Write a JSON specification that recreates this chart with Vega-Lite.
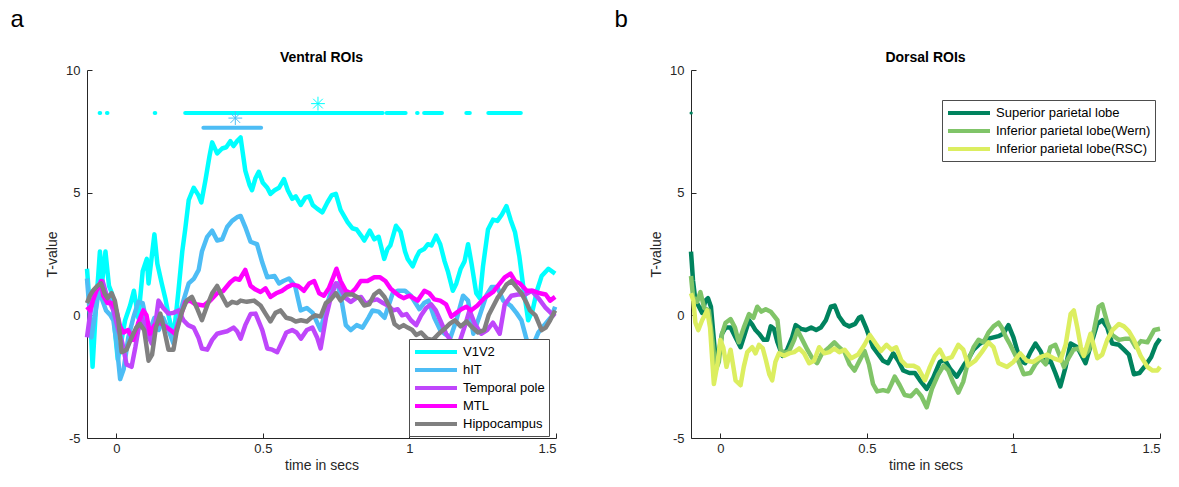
{
"$schema": "https://vega.github.io/schema/vega-lite/v6.json",
"background": "white",
"padding": {"left": 10, "right": 5, "top": 8, "bottom": 5},
"spacing": 56,
"resolve": {"scale": {"color": "independent"}, "legend": {"color": "independent"}},
"config": {
 "font": "Liberation Sans",
 "view": {"stroke": null},
 "axis": {"grid": false, "domainColor": "#262626", "tickColor": "#262626", "labelColor": "#262626", "titleColor": "#262626", "labelFont": "Liberation Sans", "titleFont": "Liberation Sans", "labelFontSize": 13, "titleFontSize": 14, "titleFontWeight": "normal", "tickSize": -5, "domainWidth": 1, "tickWidth": 1},
 "axisX": {"labelPadding": 9, "titlePadding": 3},
 "axisY": {"labelPadding": 12, "titlePadding": 6},
 "legend": {"strokeColor": "#4d4d4d", "fillColor": "white", "padding": 4, "labelFontSize": 13, "labelColor": "#000000", "labelFont": "Liberation Sans", "symbolType": "M-1,0L5,0", "symbolStrokeWidth": 4, "symbolSize": 196, "labelOffset": 32, "rowPadding": 1, "labelLimit": 0},
 "title": {"font": "Liberation Sans", "color": "#000000", "fontSize": 14, "fontWeight": "bold"}
},
"datasets": {
"v": [
{"s":"V1V2","t":-0.1,"v":1.9},{"s":"V1V2","t":-0.09,"v":0.3},{"s":"V1V2","t":-0.081,"v":-2.1},{"s":"V1V2","t":-0.07,"v":0.2},{"s":"V1V2","t":-0.056,"v":2.6},{"s":"V1V2","t":-0.048,"v":1.4},{"s":"V1V2","t":-0.037,"v":2.6},{"s":"V1V2","t":-0.025,"v":1.2},{"s":"V1V2","t":-0.015,"v":0.9},{"s":"V1V2","t":-0.005,"v":-0.6},{"s":"V1V2","t":0.005,"v":-1.8},{"s":"V1V2","t":0.015,"v":-1.2},{"s":"V1V2","t":0.03,"v":-0.2},{"s":"V1V2","t":0.047,"v":0.4},{"s":"V1V2","t":0.06,"v":1.0},{"s":"V1V2","t":0.075,"v":-0.1},{"s":"V1V2","t":0.09,"v":1.8},{"s":"V1V2","t":0.104,"v":2.3},{"s":"V1V2","t":0.11,"v":1.3},{"s":"V1V2","t":0.121,"v":2.4},{"s":"V1V2","t":0.13,"v":3.3},{"s":"V1V2","t":0.14,"v":2.1},{"s":"V1V2","t":0.155,"v":1.3},{"s":"V1V2","t":0.167,"v":0.7},{"s":"V1V2","t":0.18,"v":-0.1},{"s":"V1V2","t":0.195,"v":-0.9},{"s":"V1V2","t":0.205,"v":0.2},{"s":"V1V2","t":0.212,"v":1.0},{"s":"V1V2","t":0.225,"v":2.6},{"s":"V1V2","t":0.235,"v":3.5},{"s":"V1V2","t":0.247,"v":4.7},{"s":"V1V2","t":0.264,"v":5.2},{"s":"V1V2","t":0.28,"v":4.9},{"s":"V1V2","t":0.29,"v":4.6},{"s":"V1V2","t":0.304,"v":5.5},{"s":"V1V2","t":0.318,"v":6.5},{"s":"V1V2","t":0.327,"v":7.05},{"s":"V1V2","t":0.344,"v":6.6},{"s":"V1V2","t":0.361,"v":6.8},{"s":"V1V2","t":0.375,"v":6.85},{"s":"V1V2","t":0.389,"v":7.1},{"s":"V1V2","t":0.4,"v":6.9},{"s":"V1V2","t":0.412,"v":7.1},{"s":"V1V2","t":0.424,"v":7.25},{"s":"V1V2","t":0.44,"v":5.9},{"s":"V1V2","t":0.455,"v":5.3},{"s":"V1V2","t":0.463,"v":5.1},{"s":"V1V2","t":0.475,"v":5.6},{"s":"V1V2","t":0.486,"v":5.85},{"s":"V1V2","t":0.5,"v":5.4},{"s":"V1V2","t":0.515,"v":5.2},{"s":"V1V2","t":0.526,"v":4.95},{"s":"V1V2","t":0.54,"v":5.1},{"s":"V1V2","t":0.555,"v":5.2},{"s":"V1V2","t":0.572,"v":5.55},{"s":"V1V2","t":0.585,"v":5.1},{"s":"V1V2","t":0.6,"v":4.75},{"s":"V1V2","t":0.612,"v":4.85},{"s":"V1V2","t":0.629,"v":4.5},{"s":"V1V2","t":0.645,"v":4.8},{"s":"V1V2","t":0.658,"v":4.85},{"s":"V1V2","t":0.67,"v":4.5},{"s":"V1V2","t":0.685,"v":4.35},{"s":"V1V2","t":0.703,"v":4.2},{"s":"V1V2","t":0.72,"v":4.6},{"s":"V1V2","t":0.735,"v":4.9},{"s":"V1V2","t":0.749,"v":4.95},{"s":"V1V2","t":0.765,"v":4.3},{"s":"V1V2","t":0.789,"v":3.8},{"s":"V1V2","t":0.805,"v":3.55},{"s":"V1V2","t":0.82,"v":3.5},{"s":"V1V2","t":0.835,"v":3.25},{"s":"V1V2","t":0.846,"v":3.05},{"s":"V1V2","t":0.865,"v":3.45},{"s":"V1V2","t":0.88,"v":3.1},{"s":"V1V2","t":0.895,"v":3.2},{"s":"V1V2","t":0.914,"v":2.3},{"s":"V1V2","t":0.925,"v":2.7},{"s":"V1V2","t":0.935,"v":2.85},{"s":"V1V2","t":0.954,"v":3.65},{"s":"V1V2","t":0.97,"v":3.4},{"s":"V1V2","t":0.985,"v":2.6},{"s":"V1V2","t":0.994,"v":2.3},{"s":"V1V2","t":1.011,"v":2.0},{"s":"V1V2","t":1.025,"v":2.4},{"s":"V1V2","t":1.034,"v":2.6},{"s":"V1V2","t":1.05,"v":2.7},{"s":"V1V2","t":1.063,"v":2.9},{"s":"V1V2","t":1.075,"v":2.85},{"s":"V1V2","t":1.091,"v":3.25},{"s":"V1V2","t":1.105,"v":2.9},{"s":"V1V2","t":1.12,"v":2.2},{"s":"V1V2","t":1.131,"v":1.8},{"s":"V1V2","t":1.148,"v":1.0},{"s":"V1V2","t":1.16,"v":1.3},{"s":"V1V2","t":1.175,"v":1.9},{"s":"V1V2","t":1.188,"v":2.2},{"s":"V1V2","t":1.2,"v":2.9},{"s":"V1V2","t":1.212,"v":2.1},{"s":"V1V2","t":1.228,"v":0.9},{"s":"V1V2","t":1.24,"v":0.7},{"s":"V1V2","t":1.251,"v":2.0},{"s":"V1V2","t":1.268,"v":3.5},{"s":"V1V2","t":1.285,"v":3.9},{"s":"V1V2","t":1.3,"v":3.85},{"s":"V1V2","t":1.315,"v":4.1},{"s":"V1V2","t":1.331,"v":4.45},{"s":"V1V2","t":1.345,"v":3.9},{"s":"V1V2","t":1.36,"v":3.4},{"s":"V1V2","t":1.375,"v":2.4},{"s":"V1V2","t":1.388,"v":1.2},{"s":"V1V2","t":1.405,"v":-0.2},{"s":"V1V2","t":1.42,"v":0.2},{"s":"V1V2","t":1.435,"v":1.0},{"s":"V1V2","t":1.451,"v":1.6},{"s":"V1V2","t":1.474,"v":1.9},{"s":"V1V2","t":1.497,"v":1.7},
{"s":"hIT","t":-0.1,"v":1.5},{"s":"hIT","t":-0.092,"v":0.3},{"s":"hIT","t":-0.085,"v":-0.9},{"s":"hIT","t":-0.075,"v":-0.2},{"s":"hIT","t":-0.06,"v":1.0},{"s":"hIT","t":-0.05,"v":0.7},{"s":"hIT","t":-0.035,"v":0.2},{"s":"hIT","t":-0.02,"v":0.0},{"s":"hIT","t":-0.01,"v":-0.2},{"s":"hIT","t":0.001,"v":-1.15},{"s":"hIT","t":0.013,"v":-2.6},{"s":"hIT","t":0.025,"v":-2.2},{"s":"hIT","t":0.041,"v":-0.9},{"s":"hIT","t":0.058,"v":-0.1},{"s":"hIT","t":0.075,"v":0.55},{"s":"hIT","t":0.09,"v":0.5},{"s":"hIT","t":0.1,"v":-0.1},{"s":"hIT","t":0.115,"v":-0.6},{"s":"hIT","t":0.13,"v":-0.1},{"s":"hIT","t":0.145,"v":-0.6},{"s":"hIT","t":0.16,"v":-0.1},{"s":"hIT","t":0.178,"v":-0.6},{"s":"hIT","t":0.195,"v":-1.15},{"s":"hIT","t":0.21,"v":-0.2},{"s":"hIT","t":0.229,"v":0.6},{"s":"hIT","t":0.247,"v":1.3},{"s":"hIT","t":0.265,"v":1.5},{"s":"hIT","t":0.281,"v":1.85},{"s":"hIT","t":0.292,"v":2.6},{"s":"hIT","t":0.31,"v":3.2},{"s":"hIT","t":0.327,"v":3.45},{"s":"hIT","t":0.344,"v":3.05},{"s":"hIT","t":0.361,"v":3.1},{"s":"hIT","t":0.378,"v":3.6},{"s":"hIT","t":0.395,"v":3.85},{"s":"hIT","t":0.412,"v":4.0},{"s":"hIT","t":0.424,"v":4.05},{"s":"hIT","t":0.44,"v":3.6},{"s":"hIT","t":0.458,"v":3.0},{"s":"hIT","t":0.48,"v":2.9},{"s":"hIT","t":0.498,"v":2.15},{"s":"hIT","t":0.515,"v":1.55},{"s":"hIT","t":0.54,"v":1.6},{"s":"hIT","t":0.555,"v":1.3},{"s":"hIT","t":0.57,"v":1.4},{"s":"hIT","t":0.589,"v":1.5},{"s":"hIT","t":0.61,"v":1.2},{"s":"hIT","t":0.629,"v":0.2},{"s":"hIT","t":0.65,"v":0.3},{"s":"hIT","t":0.67,"v":0.1},{"s":"hIT","t":0.697,"v":-0.6},{"s":"hIT","t":0.715,"v":0.3},{"s":"hIT","t":0.737,"v":1.15},{"s":"hIT","t":0.755,"v":1.3},{"s":"hIT","t":0.77,"v":0.5},{"s":"hIT","t":0.783,"v":-0.4},{"s":"hIT","t":0.8,"v":-0.6},{"s":"hIT","t":0.82,"v":-0.4},{"s":"hIT","t":0.84,"v":-0.5},{"s":"hIT","t":0.86,"v":-0.1},{"s":"hIT","t":0.874,"v":0.2},{"s":"hIT","t":0.895,"v":0.15},{"s":"hIT","t":0.915,"v":-0.1},{"s":"hIT","t":0.943,"v":0.9},{"s":"hIT","t":0.96,"v":1.0},{"s":"hIT","t":0.985,"v":1.0},{"s":"hIT","t":1.005,"v":0.8},{"s":"hIT","t":1.034,"v":0.25},{"s":"hIT","t":1.05,"v":0.5},{"s":"hIT","t":1.065,"v":0.6},{"s":"hIT","t":1.085,"v":-0.1},{"s":"hIT","t":1.105,"v":-0.6},{"s":"hIT","t":1.12,"v":-0.75},{"s":"hIT","t":1.14,"v":-0.9},{"s":"hIT","t":1.16,"v":-0.2},{"s":"hIT","t":1.183,"v":0.8},{"s":"hIT","t":1.2,"v":0.6},{"s":"hIT","t":1.218,"v":-0.75},{"s":"hIT","t":1.24,"v":0.0},{"s":"hIT","t":1.262,"v":0.8},{"s":"hIT","t":1.28,"v":1.15},{"s":"hIT","t":1.3,"v":1.15},{"s":"hIT","t":1.32,"v":0.6},{"s":"hIT","t":1.345,"v":0.4},{"s":"hIT","t":1.365,"v":0.1},{"s":"hIT","t":1.382,"v":-0.2},{"s":"hIT","t":1.4,"v":-1.0},{"s":"hIT","t":1.415,"v":-1.4},{"s":"hIT","t":1.44,"v":-0.7},{"s":"hIT","t":1.46,"v":-0.4},{"s":"hIT","t":1.485,"v":-0.05},{"s":"hIT","t":1.497,"v":0.35},
{"s":"Temporal pole","t":-0.1,"v":-0.9},{"s":"Temporal pole","t":-0.09,"v":0.0},{"s":"Temporal pole","t":-0.08,"v":0.6},{"s":"Temporal pole","t":-0.07,"v":1.0},{"s":"Temporal pole","t":-0.056,"v":1.15},{"s":"Temporal pole","t":-0.047,"v":1.4},{"s":"Temporal pole","t":-0.035,"v":0.9},{"s":"Temporal pole","t":-0.025,"v":0.6},{"s":"Temporal pole","t":-0.01,"v":0.2},{"s":"Temporal pole","t":0.007,"v":-0.6},{"s":"Temporal pole","t":0.02,"v":-1.1},{"s":"Temporal pole","t":0.035,"v":-2.0},{"s":"Temporal pole","t":0.052,"v":-2.1},{"s":"Temporal pole","t":0.065,"v":-1.3},{"s":"Temporal pole","t":0.075,"v":-0.6},{"s":"Temporal pole","t":0.087,"v":-0.1},{"s":"Temporal pole","t":0.1,"v":-0.6},{"s":"Temporal pole","t":0.121,"v":-1.15},{"s":"Temporal pole","t":0.135,"v":-0.2},{"s":"Temporal pole","t":0.144,"v":0.6},{"s":"Temporal pole","t":0.16,"v":0.3},{"s":"Temporal pole","t":0.178,"v":0.07},{"s":"Temporal pole","t":0.195,"v":0.1},{"s":"Temporal pole","t":0.212,"v":0.2},{"s":"Temporal pole","t":0.229,"v":-0.2},{"s":"Temporal pole","t":0.245,"v":-0.4},{"s":"Temporal pole","t":0.264,"v":-0.5},{"s":"Temporal pole","t":0.28,"v":-0.9},{"s":"Temporal pole","t":0.292,"v":-1.35},{"s":"Temporal pole","t":0.31,"v":-1.4},{"s":"Temporal pole","t":0.327,"v":-1.0},{"s":"Temporal pole","t":0.344,"v":-0.75},{"s":"Temporal pole","t":0.36,"v":-0.7},{"s":"Temporal pole","t":0.378,"v":-0.65},{"s":"Temporal pole","t":0.4,"v":-0.5},{"s":"Temporal pole","t":0.412,"v":-0.65},{"s":"Temporal pole","t":0.424,"v":-0.95},{"s":"Temporal pole","t":0.44,"v":-0.4},{"s":"Temporal pole","t":0.458,"v":0.05},{"s":"Temporal pole","t":0.475,"v":0.07},{"s":"Temporal pole","t":0.498,"v":-0.6},{"s":"Temporal pole","t":0.515,"v":-1.35},{"s":"Temporal pole","t":0.532,"v":-1.4},{"s":"Temporal pole","t":0.549,"v":-1.5},{"s":"Temporal pole","t":0.565,"v":-1.1},{"s":"Temporal pole","t":0.58,"v":-0.7},{"s":"Temporal pole","t":0.6,"v":-0.6},{"s":"Temporal pole","t":0.615,"v":-0.7},{"s":"Temporal pole","t":0.63,"v":-0.95},{"s":"Temporal pole","t":0.65,"v":-0.6},{"s":"Temporal pole","t":0.669,"v":-0.5},{"s":"Temporal pole","t":0.685,"v":-0.9},{"s":"Temporal pole","t":0.697,"v":-1.35},{"s":"Temporal pole","t":0.715,"v":-0.1},{"s":"Temporal pole","t":0.732,"v":0.75},{"s":"Temporal pole","t":0.749,"v":1.3},{"s":"Temporal pole","t":0.765,"v":1.1},{"s":"Temporal pole","t":0.783,"v":0.7},{"s":"Temporal pole","t":0.8,"v":0.55},{"s":"Temporal pole","t":0.818,"v":0.7},{"s":"Temporal pole","t":0.835,"v":0.75},{"s":"Temporal pole","t":0.852,"v":0.45},{"s":"Temporal pole","t":0.87,"v":0.6},{"s":"Temporal pole","t":0.89,"v":0.65},{"s":"Temporal pole","t":0.91,"v":0.5},{"s":"Temporal pole","t":0.926,"v":0.4},{"s":"Temporal pole","t":0.945,"v":0.2},{"s":"Temporal pole","t":0.96,"v":0.25},{"s":"Temporal pole","t":0.975,"v":0.0},{"s":"Temporal pole","t":0.99,"v":0.05},{"s":"Temporal pole","t":1.005,"v":-0.2},{"s":"Temporal pole","t":1.023,"v":-0.4},{"s":"Temporal pole","t":1.04,"v":0.0},{"s":"Temporal pole","t":1.057,"v":0.3},{"s":"Temporal pole","t":1.074,"v":0.45},{"s":"Temporal pole","t":1.09,"v":0.2},{"s":"Temporal pole","t":1.105,"v":-0.2},{"s":"Temporal pole","t":1.125,"v":-0.75},{"s":"Temporal pole","t":1.145,"v":-1.1},{"s":"Temporal pole","t":1.165,"v":-1.3},{"s":"Temporal pole","t":1.19,"v":-0.4},{"s":"Temporal pole","t":1.205,"v":0.2},{"s":"Temporal pole","t":1.223,"v":-0.35},{"s":"Temporal pole","t":1.245,"v":-0.75},{"s":"Temporal pole","t":1.265,"v":-0.6},{"s":"Temporal pole","t":1.285,"v":-0.3},{"s":"Temporal pole","t":1.308,"v":-0.75},{"s":"Temporal pole","t":1.325,"v":0.45},{"s":"Temporal pole","t":1.348,"v":0.8},{"s":"Temporal pole","t":1.37,"v":0.85},{"s":"Temporal pole","t":1.395,"v":0.85},{"s":"Temporal pole","t":1.417,"v":1.0},{"s":"Temporal pole","t":1.44,"v":0.7},{"s":"Temporal pole","t":1.465,"v":0.3},{"s":"Temporal pole","t":1.485,"v":0.07},{"s":"Temporal pole","t":1.497,"v":-0.05},
{"s":"MTL","t":-0.1,"v":0.35},{"s":"MTL","t":-0.09,"v":0.2},{"s":"MTL","t":-0.08,"v":0.6},{"s":"MTL","t":-0.068,"v":1.0},{"s":"MTL","t":-0.052,"v":1.4},{"s":"MTL","t":-0.045,"v":0.8},{"s":"MTL","t":-0.03,"v":0.5},{"s":"MTL","t":-0.015,"v":0.5},{"s":"MTL","t":0.0,"v":0.2},{"s":"MTL","t":0.013,"v":-0.45},{"s":"MTL","t":0.025,"v":-0.7},{"s":"MTL","t":0.04,"v":-0.6},{"s":"MTL","t":0.058,"v":-1.0},{"s":"MTL","t":0.075,"v":-0.3},{"s":"MTL","t":0.092,"v":0.2},{"s":"MTL","t":0.103,"v":0.0},{"s":"MTL","t":0.115,"v":-0.75},{"s":"MTL","t":0.13,"v":-0.4},{"s":"MTL","t":0.147,"v":-0.3},{"s":"MTL","t":0.167,"v":-0.45},{"s":"MTL","t":0.185,"v":-0.6},{"s":"MTL","t":0.2,"v":-0.75},{"s":"MTL","t":0.218,"v":-0.1},{"s":"MTL","t":0.235,"v":0.55},{"s":"MTL","t":0.252,"v":0.6},{"s":"MTL","t":0.27,"v":0.45},{"s":"MTL","t":0.298,"v":0.4},{"s":"MTL","t":0.32,"v":0.6},{"s":"MTL","t":0.344,"v":0.9},{"s":"MTL","t":0.365,"v":1.0},{"s":"MTL","t":0.389,"v":1.35},{"s":"MTL","t":0.405,"v":1.5},{"s":"MTL","t":0.42,"v":1.45},{"s":"MTL","t":0.44,"v":1.85},{"s":"MTL","t":0.458,"v":1.2},{"s":"MTL","t":0.475,"v":1.05},{"s":"MTL","t":0.492,"v":0.95},{"s":"MTL","t":0.509,"v":1.1},{"s":"MTL","t":0.526,"v":0.75},{"s":"MTL","t":0.545,"v":0.9},{"s":"MTL","t":0.565,"v":1.0},{"s":"MTL","t":0.583,"v":1.15},{"s":"MTL","t":0.6,"v":1.25},{"s":"MTL","t":0.62,"v":1.2},{"s":"MTL","t":0.64,"v":1.0},{"s":"MTL","t":0.658,"v":1.3},{"s":"MTL","t":0.675,"v":1.4},{"s":"MTL","t":0.692,"v":0.9},{"s":"MTL","t":0.708,"v":0.8},{"s":"MTL","t":0.725,"v":1.1},{"s":"MTL","t":0.74,"v":1.55},{"s":"MTL","t":0.751,"v":1.9},{"s":"MTL","t":0.765,"v":1.4},{"s":"MTL","t":0.783,"v":1.0},{"s":"MTL","t":0.8,"v":0.9},{"s":"MTL","t":0.817,"v":1.1},{"s":"MTL","t":0.834,"v":1.4},{"s":"MTL","t":0.857,"v":1.4},{"s":"MTL","t":0.88,"v":1.55},{"s":"MTL","t":0.9,"v":1.55},{"s":"MTL","t":0.918,"v":1.4},{"s":"MTL","t":0.935,"v":1.1},{"s":"MTL","t":0.949,"v":0.95},{"s":"MTL","t":0.965,"v":0.8},{"s":"MTL","t":0.98,"v":0.7},{"s":"MTL","t":1.0,"v":0.8},{"s":"MTL","t":1.028,"v":0.6},{"s":"MTL","t":1.051,"v":1.0},{"s":"MTL","t":1.068,"v":0.9},{"s":"MTL","t":1.085,"v":0.65},{"s":"MTL","t":1.105,"v":0.6},{"s":"MTL","t":1.125,"v":0.45},{"s":"MTL","t":1.143,"v":-0.05},{"s":"MTL","t":1.16,"v":0.1},{"s":"MTL","t":1.177,"v":0.25},{"s":"MTL","t":1.194,"v":0.35},{"s":"MTL","t":1.21,"v":0.2},{"s":"MTL","t":1.232,"v":0.4},{"s":"MTL","t":1.255,"v":0.7},{"s":"MTL","t":1.285,"v":0.95},{"s":"MTL","t":1.305,"v":1.25},{"s":"MTL","t":1.325,"v":1.55},{"s":"MTL","t":1.345,"v":1.7},{"s":"MTL","t":1.36,"v":1.4},{"s":"MTL","t":1.377,"v":1.3},{"s":"MTL","t":1.4,"v":1.0},{"s":"MTL","t":1.422,"v":1.0},{"s":"MTL","t":1.445,"v":0.9},{"s":"MTL","t":1.465,"v":0.85},{"s":"MTL","t":1.48,"v":0.6},{"s":"MTL","t":1.497,"v":0.75},
{"s":"Hippocampus","t":-0.1,"v":0.5},{"s":"Hippocampus","t":-0.09,"v":0.8},{"s":"Hippocampus","t":-0.08,"v":1.0},{"s":"Hippocampus","t":-0.065,"v":1.2},{"s":"Hippocampus","t":-0.052,"v":1.3},{"s":"Hippocampus","t":-0.04,"v":0.9},{"s":"Hippocampus","t":-0.03,"v":0.7},{"s":"Hippocampus","t":-0.016,"v":0.9},{"s":"Hippocampus","t":-0.005,"v":0.6},{"s":"Hippocampus","t":0.007,"v":-0.2},{"s":"Hippocampus","t":0.018,"v":-1.5},{"s":"Hippocampus","t":0.035,"v":-1.4},{"s":"Hippocampus","t":0.052,"v":-0.9},{"s":"Hippocampus","t":0.068,"v":-0.5},{"s":"Hippocampus","t":0.081,"v":-0.35},{"s":"Hippocampus","t":0.095,"v":-0.6},{"s":"Hippocampus","t":0.11,"v":-1.85},{"s":"Hippocampus","t":0.122,"v":-1.6},{"s":"Hippocampus","t":0.135,"v":-0.5},{"s":"Hippocampus","t":0.15,"v":0.07},{"s":"Hippocampus","t":0.16,"v":-0.4},{"s":"Hippocampus","t":0.178,"v":-1.4},{"s":"Hippocampus","t":0.195,"v":-1.4},{"s":"Hippocampus","t":0.205,"v":-0.7},{"s":"Hippocampus","t":0.224,"v":0.15},{"s":"Hippocampus","t":0.24,"v":0.6},{"s":"Hippocampus","t":0.258,"v":0.75},{"s":"Hippocampus","t":0.275,"v":0.3},{"s":"Hippocampus","t":0.292,"v":-0.2},{"s":"Hippocampus","t":0.31,"v":0.4},{"s":"Hippocampus","t":0.327,"v":0.9},{"s":"Hippocampus","t":0.344,"v":1.2},{"s":"Hippocampus","t":0.36,"v":0.8},{"s":"Hippocampus","t":0.378,"v":0.4},{"s":"Hippocampus","t":0.395,"v":0.55},{"s":"Hippocampus","t":0.412,"v":0.5},{"s":"Hippocampus","t":0.424,"v":0.6},{"s":"Hippocampus","t":0.445,"v":0.55},{"s":"Hippocampus","t":0.47,"v":0.6},{"s":"Hippocampus","t":0.492,"v":0.4},{"s":"Hippocampus","t":0.51,"v":0.05},{"s":"Hippocampus","t":0.526,"v":-0.25},{"s":"Hippocampus","t":0.543,"v":0.1},{"s":"Hippocampus","t":0.56,"v":0.2},{"s":"Hippocampus","t":0.58,"v":-0.1},{"s":"Hippocampus","t":0.597,"v":-0.15},{"s":"Hippocampus","t":0.612,"v":-0.25},{"s":"Hippocampus","t":0.63,"v":-0.2},{"s":"Hippocampus","t":0.65,"v":-0.25},{"s":"Hippocampus","t":0.665,"v":-0.1},{"s":"Hippocampus","t":0.68,"v":0.0},{"s":"Hippocampus","t":0.697,"v":-0.05},{"s":"Hippocampus","t":0.715,"v":0.5},{"s":"Hippocampus","t":0.732,"v":0.65},{"s":"Hippocampus","t":0.749,"v":0.9},{"s":"Hippocampus","t":0.765,"v":0.6},{"s":"Hippocampus","t":0.783,"v":0.85},{"s":"Hippocampus","t":0.806,"v":0.85},{"s":"Hippocampus","t":0.829,"v":0.7},{"s":"Hippocampus","t":0.846,"v":0.4},{"s":"Hippocampus","t":0.863,"v":0.45},{"s":"Hippocampus","t":0.88,"v":0.85},{"s":"Hippocampus","t":0.897,"v":1.0},{"s":"Hippocampus","t":0.915,"v":0.75},{"s":"Hippocampus","t":0.932,"v":0.35},{"s":"Hippocampus","t":0.949,"v":-0.35},{"s":"Hippocampus","t":0.965,"v":-0.5},{"s":"Hippocampus","t":0.98,"v":-0.4},{"s":"Hippocampus","t":0.994,"v":-0.5},{"s":"Hippocampus","t":1.01,"v":-0.6},{"s":"Hippocampus","t":1.023,"v":-0.8},{"s":"Hippocampus","t":1.04,"v":-0.7},{"s":"Hippocampus","t":1.06,"v":-0.95},{"s":"Hippocampus","t":1.08,"v":-1.0},{"s":"Hippocampus","t":1.1,"v":-0.75},{"s":"Hippocampus","t":1.12,"v":-0.55},{"s":"Hippocampus","t":1.137,"v":-0.35},{"s":"Hippocampus","t":1.155,"v":-0.2},{"s":"Hippocampus","t":1.175,"v":-0.45},{"s":"Hippocampus","t":1.195,"v":-0.25},{"s":"Hippocampus","t":1.215,"v":-0.5},{"s":"Hippocampus","t":1.234,"v":-0.7},{"s":"Hippocampus","t":1.255,"v":-0.6},{"s":"Hippocampus","t":1.27,"v":0.0},{"s":"Hippocampus","t":1.285,"v":0.35},{"s":"Hippocampus","t":1.3,"v":0.7},{"s":"Hippocampus","t":1.318,"v":1.0},{"s":"Hippocampus","t":1.331,"v":1.25},{"s":"Hippocampus","t":1.348,"v":1.4},{"s":"Hippocampus","t":1.365,"v":1.15},{"s":"Hippocampus","t":1.382,"v":0.9},{"s":"Hippocampus","t":1.4,"v":0.5},{"s":"Hippocampus","t":1.411,"v":0.2},{"s":"Hippocampus","t":1.43,"v":0.0},{"s":"Hippocampus","t":1.451,"v":-0.6},{"s":"Hippocampus","t":1.465,"v":-0.5},{"s":"Hippocampus","t":1.48,"v":-0.2},{"s":"Hippocampus","t":1.497,"v":0.2}
],
"d": [
{"s":"Superior parietal lobe","t":-0.1,"v":2.6},{"s":"Superior parietal lobe","t":-0.093,"v":1.4},{"s":"Superior parietal lobe","t":-0.085,"v":0.6},{"s":"Superior parietal lobe","t":-0.075,"v":0.4},{"s":"Superior parietal lobe","t":-0.062,"v":0.1},{"s":"Superior parietal lobe","t":-0.051,"v":0.6},{"s":"Superior parietal lobe","t":-0.042,"v":0.7},{"s":"Superior parietal lobe","t":-0.032,"v":0.35},{"s":"Superior parietal lobe","t":-0.025,"v":-0.6},{"s":"Superior parietal lobe","t":-0.016,"v":-1.8},{"s":"Superior parietal lobe","t":-0.005,"v":-1.5},{"s":"Superior parietal lobe","t":0.006,"v":-0.75},{"s":"Superior parietal lobe","t":0.018,"v":-0.5},{"s":"Superior parietal lobe","t":0.035,"v":-0.5},{"s":"Superior parietal lobe","t":0.052,"v":-0.9},{"s":"Superior parietal lobe","t":0.069,"v":-1.3},{"s":"Superior parietal lobe","t":0.085,"v":-0.7},{"s":"Superior parietal lobe","t":0.098,"v":-0.2},{"s":"Superior parietal lobe","t":0.11,"v":-0.4},{"s":"Superior parietal lobe","t":0.12,"v":-0.6},{"s":"Superior parietal lobe","t":0.132,"v":-0.75},{"s":"Superior parietal lobe","t":0.148,"v":-1.0},{"s":"Superior parietal lobe","t":0.16,"v":-1.0},{"s":"Superior parietal lobe","t":0.172,"v":-0.45},{"s":"Superior parietal lobe","t":0.183,"v":-0.55},{"s":"Superior parietal lobe","t":0.195,"v":-1.1},{"s":"Superior parietal lobe","t":0.212,"v":-1.65},{"s":"Superior parietal lobe","t":0.228,"v":-1.4},{"s":"Superior parietal lobe","t":0.245,"v":-0.9},{"s":"Superior parietal lobe","t":0.257,"v":-0.4},{"s":"Superior parietal lobe","t":0.275,"v":-0.55},{"s":"Superior parietal lobe","t":0.292,"v":-0.6},{"s":"Superior parietal lobe","t":0.31,"v":-0.5},{"s":"Superior parietal lobe","t":0.327,"v":-0.6},{"s":"Superior parietal lobe","t":0.343,"v":-0.5},{"s":"Superior parietal lobe","t":0.36,"v":-0.2},{"s":"Superior parietal lobe","t":0.377,"v":0.35},{"s":"Superior parietal lobe","t":0.39,"v":0.4},{"s":"Superior parietal lobe","t":0.405,"v":-0.05},{"s":"Superior parietal lobe","t":0.423,"v":-0.35},{"s":"Superior parietal lobe","t":0.44,"v":-0.45},{"s":"Superior parietal lobe","t":0.46,"v":-0.35},{"s":"Superior parietal lobe","t":0.473,"v":-0.1},{"s":"Superior parietal lobe","t":0.481,"v":-0.05},{"s":"Superior parietal lobe","t":0.497,"v":-0.5},{"s":"Superior parietal lobe","t":0.521,"v":-1.3},{"s":"Superior parietal lobe","t":0.54,"v":-1.6},{"s":"Superior parietal lobe","t":0.555,"v":-1.85},{"s":"Superior parietal lobe","t":0.572,"v":-1.95},{"s":"Superior parietal lobe","t":0.59,"v":-1.55},{"s":"Superior parietal lobe","t":0.607,"v":-1.85},{"s":"Superior parietal lobe","t":0.624,"v":-2.25},{"s":"Superior parietal lobe","t":0.645,"v":-2.35},{"s":"Superior parietal lobe","t":0.664,"v":-2.35},{"s":"Superior parietal lobe","t":0.681,"v":-2.65},{"s":"Superior parietal lobe","t":0.704,"v":-3.0},{"s":"Superior parietal lobe","t":0.726,"v":-2.55},{"s":"Superior parietal lobe","t":0.749,"v":-1.9},{"s":"Superior parietal lobe","t":0.765,"v":-1.8},{"s":"Superior parietal lobe","t":0.785,"v":-2.2},{"s":"Superior parietal lobe","t":0.807,"v":-2.5},{"s":"Superior parietal lobe","t":0.83,"v":-2.05},{"s":"Superior parietal lobe","t":0.847,"v":-1.75},{"s":"Superior parietal lobe","t":0.864,"v":-1.4},{"s":"Superior parietal lobe","t":0.881,"v":-1.2},{"s":"Superior parietal lobe","t":0.898,"v":-1.05},{"s":"Superior parietal lobe","t":0.915,"v":-0.95},{"s":"Superior parietal lobe","t":0.932,"v":-0.9},{"s":"Superior parietal lobe","t":0.949,"v":-0.85},{"s":"Superior parietal lobe","t":0.965,"v":-0.75},{"s":"Superior parietal lobe","t":0.983,"v":-0.4},{"s":"Superior parietal lobe","t":1.0,"v":-0.9},{"s":"Superior parietal lobe","t":1.023,"v":-1.85},{"s":"Superior parietal lobe","t":1.04,"v":-1.95},{"s":"Superior parietal lobe","t":1.058,"v":-1.5},{"s":"Superior parietal lobe","t":1.075,"v":-1.15},{"s":"Superior parietal lobe","t":1.092,"v":-1.45},{"s":"Superior parietal lobe","t":1.11,"v":-1.95},{"s":"Superior parietal lobe","t":1.126,"v":-1.85},{"s":"Superior parietal lobe","t":1.143,"v":-2.35},{"s":"Superior parietal lobe","t":1.16,"v":-2.9},{"s":"Superior parietal lobe","t":1.178,"v":-2.1},{"s":"Superior parietal lobe","t":1.195,"v":-1.15},{"s":"Superior parietal lobe","t":1.218,"v":-1.3},{"s":"Superior parietal lobe","t":1.246,"v":-1.95},{"s":"Superior parietal lobe","t":1.262,"v":-1.3},{"s":"Superior parietal lobe","t":1.286,"v":-0.35},{"s":"Superior parietal lobe","t":1.303,"v":-0.2},{"s":"Superior parietal lobe","t":1.32,"v":-0.5},{"s":"Superior parietal lobe","t":1.337,"v":-1.15},{"s":"Superior parietal lobe","t":1.36,"v":-1.2},{"s":"Superior parietal lobe","t":1.377,"v":-1.4},{"s":"Superior parietal lobe","t":1.394,"v":-1.6},{"s":"Superior parietal lobe","t":1.411,"v":-2.4},{"s":"Superior parietal lobe","t":1.43,"v":-2.35},{"s":"Superior parietal lobe","t":1.45,"v":-2.05},{"s":"Superior parietal lobe","t":1.47,"v":-1.7},{"s":"Superior parietal lobe","t":1.486,"v":-1.2},{"s":"Superior parietal lobe","t":1.5,"v":-0.95},
{"s":"Inferior parietal lobe(Wern)","t":-0.1,"v":1.6},{"s":"Inferior parietal lobe(Wern)","t":-0.093,"v":0.75},{"s":"Inferior parietal lobe(Wern)","t":-0.079,"v":0.55},{"s":"Inferior parietal lobe(Wern)","t":-0.068,"v":0.95},{"s":"Inferior parietal lobe(Wern)","t":-0.055,"v":0.3},{"s":"Inferior parietal lobe(Wern)","t":-0.039,"v":0.2},{"s":"Inferior parietal lobe(Wern)","t":-0.028,"v":-0.9},{"s":"Inferior parietal lobe(Wern)","t":-0.016,"v":-2.25},{"s":"Inferior parietal lobe(Wern)","t":-0.005,"v":-1.9},{"s":"Inferior parietal lobe(Wern)","t":0.006,"v":-0.75},{"s":"Inferior parietal lobe(Wern)","t":0.018,"v":-0.3},{"s":"Inferior parietal lobe(Wern)","t":0.035,"v":-0.15},{"s":"Inferior parietal lobe(Wern)","t":0.05,"v":-0.5},{"s":"Inferior parietal lobe(Wern)","t":0.063,"v":-1.1},{"s":"Inferior parietal lobe(Wern)","t":0.08,"v":-0.5},{"s":"Inferior parietal lobe(Wern)","t":0.098,"v":0.05},{"s":"Inferior parietal lobe(Wern)","t":0.113,"v":-0.1},{"s":"Inferior parietal lobe(Wern)","t":0.126,"v":0.35},{"s":"Inferior parietal lobe(Wern)","t":0.14,"v":0.15},{"s":"Inferior parietal lobe(Wern)","t":0.155,"v":0.25},{"s":"Inferior parietal lobe(Wern)","t":0.172,"v":0.15},{"s":"Inferior parietal lobe(Wern)","t":0.195,"v":-0.2},{"s":"Inferior parietal lobe(Wern)","t":0.206,"v":-1.4},{"s":"Inferior parietal lobe(Wern)","t":0.218,"v":-1.55},{"s":"Inferior parietal lobe(Wern)","t":0.235,"v":-1.45},{"s":"Inferior parietal lobe(Wern)","t":0.252,"v":-1.0},{"s":"Inferior parietal lobe(Wern)","t":0.263,"v":-0.6},{"s":"Inferior parietal lobe(Wern)","t":0.28,"v":-1.0},{"s":"Inferior parietal lobe(Wern)","t":0.297,"v":-1.4},{"s":"Inferior parietal lobe(Wern)","t":0.314,"v":-1.75},{"s":"Inferior parietal lobe(Wern)","t":0.33,"v":-1.95},{"s":"Inferior parietal lobe(Wern)","t":0.347,"v":-1.55},{"s":"Inferior parietal lobe(Wern)","t":0.372,"v":-1.3},{"s":"Inferior parietal lobe(Wern)","t":0.389,"v":-1.1},{"s":"Inferior parietal lobe(Wern)","t":0.405,"v":-1.3},{"s":"Inferior parietal lobe(Wern)","t":0.424,"v":-1.5},{"s":"Inferior parietal lobe(Wern)","t":0.441,"v":-2.0},{"s":"Inferior parietal lobe(Wern)","t":0.458,"v":-2.25},{"s":"Inferior parietal lobe(Wern)","t":0.475,"v":-1.85},{"s":"Inferior parietal lobe(Wern)","t":0.492,"v":-1.45},{"s":"Inferior parietal lobe(Wern)","t":0.507,"v":-2.0},{"s":"Inferior parietal lobe(Wern)","t":0.521,"v":-2.8},{"s":"Inferior parietal lobe(Wern)","t":0.535,"v":-3.1},{"s":"Inferior parietal lobe(Wern)","t":0.555,"v":-3.05},{"s":"Inferior parietal lobe(Wern)","t":0.572,"v":-3.1},{"s":"Inferior parietal lobe(Wern)","t":0.584,"v":-2.8},{"s":"Inferior parietal lobe(Wern)","t":0.595,"v":-2.5},{"s":"Inferior parietal lobe(Wern)","t":0.612,"v":-2.85},{"s":"Inferior parietal lobe(Wern)","t":0.629,"v":-3.25},{"s":"Inferior parietal lobe(Wern)","t":0.65,"v":-3.3},{"s":"Inferior parietal lobe(Wern)","t":0.669,"v":-3.05},{"s":"Inferior parietal lobe(Wern)","t":0.686,"v":-3.3},{"s":"Inferior parietal lobe(Wern)","t":0.704,"v":-3.75},{"s":"Inferior parietal lobe(Wern)","t":0.722,"v":-3.0},{"s":"Inferior parietal lobe(Wern)","t":0.744,"v":-2.4},{"s":"Inferior parietal lobe(Wern)","t":0.762,"v":-2.05},{"s":"Inferior parietal lobe(Wern)","t":0.778,"v":-2.25},{"s":"Inferior parietal lobe(Wern)","t":0.795,"v":-2.75},{"s":"Inferior parietal lobe(Wern)","t":0.812,"v":-3.15},{"s":"Inferior parietal lobe(Wern)","t":0.829,"v":-2.7},{"s":"Inferior parietal lobe(Wern)","t":0.846,"v":-1.85},{"s":"Inferior parietal lobe(Wern)","t":0.864,"v":-1.3},{"s":"Inferior parietal lobe(Wern)","t":0.881,"v":-1.0},{"s":"Inferior parietal lobe(Wern)","t":0.898,"v":-1.1},{"s":"Inferior parietal lobe(Wern)","t":0.915,"v":-0.7},{"s":"Inferior parietal lobe(Wern)","t":0.932,"v":-0.45},{"s":"Inferior parietal lobe(Wern)","t":0.949,"v":-0.3},{"s":"Inferior parietal lobe(Wern)","t":0.96,"v":-0.5},{"s":"Inferior parietal lobe(Wern)","t":0.975,"v":-0.9},{"s":"Inferior parietal lobe(Wern)","t":0.989,"v":-1.2},{"s":"Inferior parietal lobe(Wern)","t":1.018,"v":-1.9},{"s":"Inferior parietal lobe(Wern)","t":1.035,"v":-2.4},{"s":"Inferior parietal lobe(Wern)","t":1.058,"v":-2.35},{"s":"Inferior parietal lobe(Wern)","t":1.075,"v":-2.0},{"s":"Inferior parietal lobe(Wern)","t":1.092,"v":-1.75},{"s":"Inferior parietal lobe(Wern)","t":1.11,"v":-2.0},{"s":"Inferior parietal lobe(Wern)","t":1.126,"v":-1.3},{"s":"Inferior parietal lobe(Wern)","t":1.143,"v":-1.2},{"s":"Inferior parietal lobe(Wern)","t":1.16,"v":-1.7},{"s":"Inferior parietal lobe(Wern)","t":1.172,"v":-2.1},{"s":"Inferior parietal lobe(Wern)","t":1.19,"v":-1.7},{"s":"Inferior parietal lobe(Wern)","t":1.205,"v":-1.4},{"s":"Inferior parietal lobe(Wern)","t":1.222,"v":-1.35},{"s":"Inferior parietal lobe(Wern)","t":1.24,"v":-1.65},{"s":"Inferior parietal lobe(Wern)","t":1.258,"v":-1.4},{"s":"Inferior parietal lobe(Wern)","t":1.275,"v":-0.6},{"s":"Inferior parietal lobe(Wern)","t":1.291,"v":0.35},{"s":"Inferior parietal lobe(Wern)","t":1.303,"v":0.45},{"s":"Inferior parietal lobe(Wern)","t":1.32,"v":-0.3},{"s":"Inferior parietal lobe(Wern)","t":1.337,"v":-0.8},{"s":"Inferior parietal lobe(Wern)","t":1.36,"v":-1.0},{"s":"Inferior parietal lobe(Wern)","t":1.383,"v":-0.95},{"s":"Inferior parietal lobe(Wern)","t":1.4,"v":-0.95},{"s":"Inferior parietal lobe(Wern)","t":1.417,"v":-1.3},{"s":"Inferior parietal lobe(Wern)","t":1.435,"v":-1.05},{"s":"Inferior parietal lobe(Wern)","t":1.457,"v":-1.1},{"s":"Inferior parietal lobe(Wern)","t":1.48,"v":-0.6},{"s":"Inferior parietal lobe(Wern)","t":1.5,"v":-0.55},
{"s":"Inferior parietal lobe(RSC)","t":-0.1,"v":0.9},{"s":"Inferior parietal lobe(RSC)","t":-0.092,"v":0.6},{"s":"Inferior parietal lobe(RSC)","t":-0.085,"v":-0.3},{"s":"Inferior parietal lobe(RSC)","t":-0.075,"v":-0.6},{"s":"Inferior parietal lobe(RSC)","t":-0.062,"v":-0.2},{"s":"Inferior parietal lobe(RSC)","t":-0.045,"v":0.2},{"s":"Inferior parietal lobe(RSC)","t":-0.035,"v":-0.5},{"s":"Inferior parietal lobe(RSC)","t":-0.022,"v":-2.8},{"s":"Inferior parietal lobe(RSC)","t":-0.01,"v":-2.0},{"s":"Inferior parietal lobe(RSC)","t":0.0,"v":-1.0},{"s":"Inferior parietal lobe(RSC)","t":0.01,"v":-1.3},{"s":"Inferior parietal lobe(RSC)","t":0.021,"v":-2.1},{"s":"Inferior parietal lobe(RSC)","t":0.035,"v":-1.4},{"s":"Inferior parietal lobe(RSC)","t":0.052,"v":-2.65},{"s":"Inferior parietal lobe(RSC)","t":0.069,"v":-2.85},{"s":"Inferior parietal lobe(RSC)","t":0.08,"v":-2.1},{"s":"Inferior parietal lobe(RSC)","t":0.092,"v":-1.5},{"s":"Inferior parietal lobe(RSC)","t":0.109,"v":-1.3},{"s":"Inferior parietal lobe(RSC)","t":0.12,"v":-1.55},{"s":"Inferior parietal lobe(RSC)","t":0.132,"v":-1.2},{"s":"Inferior parietal lobe(RSC)","t":0.145,"v":-1.35},{"s":"Inferior parietal lobe(RSC)","t":0.155,"v":-1.8},{"s":"Inferior parietal lobe(RSC)","t":0.167,"v":-2.4},{"s":"Inferior parietal lobe(RSC)","t":0.177,"v":-2.65},{"s":"Inferior parietal lobe(RSC)","t":0.188,"v":-1.9},{"s":"Inferior parietal lobe(RSC)","t":0.2,"v":-1.55},{"s":"Inferior parietal lobe(RSC)","t":0.218,"v":-1.65},{"s":"Inferior parietal lobe(RSC)","t":0.235,"v":-1.55},{"s":"Inferior parietal lobe(RSC)","t":0.252,"v":-1.5},{"s":"Inferior parietal lobe(RSC)","t":0.269,"v":-1.35},{"s":"Inferior parietal lobe(RSC)","t":0.286,"v":-1.55},{"s":"Inferior parietal lobe(RSC)","t":0.303,"v":-1.95},{"s":"Inferior parietal lobe(RSC)","t":0.32,"v":-1.85},{"s":"Inferior parietal lobe(RSC)","t":0.337,"v":-1.3},{"s":"Inferior parietal lobe(RSC)","t":0.355,"v":-1.55},{"s":"Inferior parietal lobe(RSC)","t":0.372,"v":-1.5},{"s":"Inferior parietal lobe(RSC)","t":0.389,"v":-1.35},{"s":"Inferior parietal lobe(RSC)","t":0.406,"v":-1.5},{"s":"Inferior parietal lobe(RSC)","t":0.424,"v":-1.4},{"s":"Inferior parietal lobe(RSC)","t":0.447,"v":-1.75},{"s":"Inferior parietal lobe(RSC)","t":0.47,"v":-1.6},{"s":"Inferior parietal lobe(RSC)","t":0.492,"v":-1.2},{"s":"Inferior parietal lobe(RSC)","t":0.51,"v":-0.8},{"s":"Inferior parietal lobe(RSC)","t":0.53,"v":-1.15},{"s":"Inferior parietal lobe(RSC)","t":0.548,"v":-1.45},{"s":"Inferior parietal lobe(RSC)","t":0.567,"v":-1.2},{"s":"Inferior parietal lobe(RSC)","t":0.584,"v":-1.4},{"s":"Inferior parietal lobe(RSC)","t":0.6,"v":-1.3},{"s":"Inferior parietal lobe(RSC)","t":0.618,"v":-1.85},{"s":"Inferior parietal lobe(RSC)","t":0.635,"v":-2.05},{"s":"Inferior parietal lobe(RSC)","t":0.658,"v":-2.05},{"s":"Inferior parietal lobe(RSC)","t":0.675,"v":-2.15},{"s":"Inferior parietal lobe(RSC)","t":0.698,"v":-2.65},{"s":"Inferior parietal lobe(RSC)","t":0.715,"v":-2.1},{"s":"Inferior parietal lobe(RSC)","t":0.732,"v":-1.65},{"s":"Inferior parietal lobe(RSC)","t":0.749,"v":-1.4},{"s":"Inferior parietal lobe(RSC)","t":0.766,"v":-1.8},{"s":"Inferior parietal lobe(RSC)","t":0.79,"v":-1.7},{"s":"Inferior parietal lobe(RSC)","t":0.812,"v":-1.2},{"s":"Inferior parietal lobe(RSC)","t":0.829,"v":-1.4},{"s":"Inferior parietal lobe(RSC)","t":0.846,"v":-2.05},{"s":"Inferior parietal lobe(RSC)","t":0.87,"v":-1.85},{"s":"Inferior parietal lobe(RSC)","t":0.892,"v":-1.5},{"s":"Inferior parietal lobe(RSC)","t":0.915,"v":-1.1},{"s":"Inferior parietal lobe(RSC)","t":0.932,"v":-1.3},{"s":"Inferior parietal lobe(RSC)","t":0.949,"v":-1.95},{"s":"Inferior parietal lobe(RSC)","t":0.978,"v":-2.1},{"s":"Inferior parietal lobe(RSC)","t":1.0,"v":-1.9},{"s":"Inferior parietal lobe(RSC)","t":1.023,"v":-1.55},{"s":"Inferior parietal lobe(RSC)","t":1.045,"v":-1.85},{"s":"Inferior parietal lobe(RSC)","t":1.068,"v":-1.9},{"s":"Inferior parietal lobe(RSC)","t":1.092,"v":-1.7},{"s":"Inferior parietal lobe(RSC)","t":1.115,"v":-1.6},{"s":"Inferior parietal lobe(RSC)","t":1.137,"v":-1.75},{"s":"Inferior parietal lobe(RSC)","t":1.16,"v":-1.85},{"s":"Inferior parietal lobe(RSC)","t":1.178,"v":-1.2},{"s":"Inferior parietal lobe(RSC)","t":1.195,"v":0.05},{"s":"Inferior parietal lobe(RSC)","t":1.206,"v":0.2},{"s":"Inferior parietal lobe(RSC)","t":1.218,"v":-0.5},{"s":"Inferior parietal lobe(RSC)","t":1.23,"v":-1.3},{"s":"Inferior parietal lobe(RSC)","t":1.24,"v":-1.65},{"s":"Inferior parietal lobe(RSC)","t":1.263,"v":-0.75},{"s":"Inferior parietal lobe(RSC)","t":1.286,"v":-1.75},{"s":"Inferior parietal lobe(RSC)","t":1.303,"v":-1.6},{"s":"Inferior parietal lobe(RSC)","t":1.32,"v":-1.0},{"s":"Inferior parietal lobe(RSC)","t":1.338,"v":-0.6},{"s":"Inferior parietal lobe(RSC)","t":1.36,"v":-0.35},{"s":"Inferior parietal lobe(RSC)","t":1.377,"v":-0.45},{"s":"Inferior parietal lobe(RSC)","t":1.394,"v":-0.65},{"s":"Inferior parietal lobe(RSC)","t":1.411,"v":-1.0},{"s":"Inferior parietal lobe(RSC)","t":1.434,"v":-1.65},{"s":"Inferior parietal lobe(RSC)","t":1.457,"v":-2.1},{"s":"Inferior parietal lobe(RSC)","t":1.475,"v":-2.25},{"s":"Inferior parietal lobe(RSC)","t":1.491,"v":-2.25},{"s":"Inferior parietal lobe(RSC)","t":1.5,"v":-2.1}
],
"sv": [
{"s":"V1V2","t0":-0.057,"t1":-0.055,"v":8.25},{"s":"V1V2","t0":-0.032,"t1":-0.03,"v":8.25},{"s":"V1V2","t0":0.131,"t1":0.133,"v":8.25},{"s":"V1V2","t0":0.235,"t1":0.909,"v":8.25},{"s":"V1V2","t0":0.922,"t1":0.987,"v":8.25},{"s":"V1V2","t0":1.026,"t1":1.028,"v":8.25},{"s":"V1V2","t0":1.05,"t1":1.111,"v":8.25},{"s":"V1V2","t0":1.194,"t1":1.206,"v":8.25},{"s":"V1V2","t0":1.269,"t1":1.38,"v":8.25},
{"s":"hIT","t0":0.297,"t1":0.494,"v":7.65}
],
"st": [
{"s":"V1V2","t":0.688,"v":8.63},{"s":"hIT","t":0.406,"v":8.04}
],
"sd": [
{"s":"Superior parietal lobe","t0":-0.1,"t1":-0.099,"v":8.25}
]
},
"hconcat": [
{
 "title": {"text": "a", "anchor": "start", "fontSize": 24, "fontWeight": "normal", "dx": -35, "offset": 19},
 "vconcat": [
 {
  "title": {"text": "Ventral ROIs", "offset": -1, "frame": "group"},
  "width": 469, "height": 368,
  "layer": [
   {"data": {"name": "v"}, "mark": {"type": "line", "strokeWidth": 4.5, "strokeJoin": "round"},
    "encoding": {
     "x": {"field": "t", "type": "quantitative", "scale": {"domain": [-0.1, 1.5], "nice": false, "zero": false}, "axis": {"title": "time in secs", "values": [0, 0.5, 1, 1.5], "format": ".2~f"}},
     "y": {"field": "v", "type": "quantitative", "scale": {"domain": [-5, 10], "nice": false, "zero": false}, "axis": {"title": "T-value", "values": [-5, 0, 5, 10], "labelExpr": "replace(datum.label, '\u2212', '-')"}},
     "color": {"field": "s", "type": "nominal", "scale": {"domain": ["V1V2", "hIT", "Temporal pole", "MTL", "Hippocampus"], "range": ["#00FFFF", "#4DBDF5", "#BF46FB", "#FF00FF", "#808080"]}, "legend": {"title": null, "orient": "none", "legendX": 322, "legendY": 269}}
    }},
   {"data": {"name": "sv"}, "mark": {"type": "rule", "strokeWidth": 4, "strokeCap": "round"},
    "encoding": {
     "x": {"field": "t0", "type": "quantitative"}, "x2": {"field": "t1"},
     "y": {"field": "v", "type": "quantitative"},
     "color": {"field": "s", "type": "nominal"}
    }},
   {"data": {"name": "st"}, "mark": {"type": "point", "shape": "M-1,0L1,0M0,-1L0,1M-0.7,-0.7L0.7,0.7M-0.7,0.7L0.7,-0.7", "filled": false, "strokeWidth": 1, "size": 190, "opacity": 1},
    "encoding": {
     "x": {"field": "t", "type": "quantitative"},
     "y": {"field": "v", "type": "quantitative"},
     "color": {"field": "s", "type": "nominal"}
    }}
  ]
 }
 ]
},
{
 "title": {"text": "b", "anchor": "start", "fontSize": 24, "fontWeight": "normal", "dx": -35, "offset": 19},
 "vconcat": [
 {
  "title": {"text": "Dorsal ROIs", "offset": -1, "frame": "group"},
  "width": 469, "height": 368,
  "layer": [
   {"data": {"name": "d"}, "mark": {"type": "line", "strokeWidth": 4.5, "strokeJoin": "round"},
    "encoding": {
     "x": {"field": "t", "type": "quantitative", "scale": {"domain": [-0.1, 1.5], "nice": false, "zero": false}, "axis": {"title": "time in secs", "values": [0, 0.5, 1, 1.5], "format": ".2~f"}},
     "y": {"field": "v", "type": "quantitative", "scale": {"domain": [-5, 10], "nice": false, "zero": false}, "axis": {"title": "T-value", "values": [-5, 0, 5, 10], "labelExpr": "replace(datum.label, '\u2212', '-')"}},
     "color": {"field": "s", "type": "nominal", "scale": {"domain": ["Superior parietal lobe", "Inferior parietal lobe(Wern)", "Inferior parietal lobe(RSC)"], "range": ["#00835E", "#80C468", "#DCEE60"]}, "legend": {"title": null, "orient": "none", "legendX": 251, "legendY": 30}}
    }},
   {"data": {"name": "sd"}, "mark": {"type": "rule", "strokeWidth": 3, "strokeCap": "round"},
    "encoding": {
     "x": {"field": "t0", "type": "quantitative"}, "x2": {"field": "t1"},
     "y": {"field": "v", "type": "quantitative"},
     "color": {"field": "s", "type": "nominal"}
    }}
  ]
 }
 ]
}
]
}
